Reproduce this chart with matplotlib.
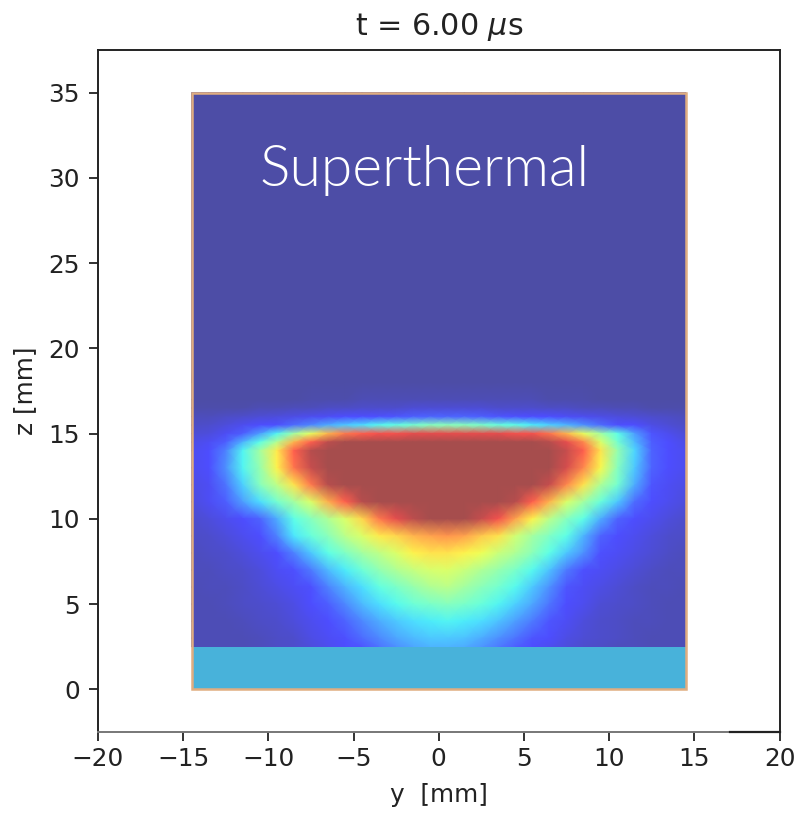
import numpy as np
import matplotlib
matplotlib.use('Agg')
import matplotlib.pyplot as plt
from matplotlib.colors import ListedColormap
from matplotlib.patches import Rectangle

# bin edges (mm), values on a 0-10 scale
y_pos = np.arange(-14.5, 15.5, 1.0)
z_pos = [35, 18, 17, 16.5, 16, 15.5, 15, 14.5, 14, 13, 12, 11, 10, 9, 8, 7, 6, 5, 4, 3, 2.5]

row_35 = [0] * 30
row_18 = [0] * 30
row_17 = [0, 0, 0, 0, 0, 0, 0, .1, .1, .1, .2, .2, .2, .2, .2, .2, .2, .2, .2, .2, .2, .1, .1, .1, 0, 0, 0, 0, 0, 0]
row_165 = [.1, .1, .1, .1, .2, .2, .3, .3, .4, .4, .5, .5, .5, .6, .6, .6, .6, .6, .5, .5, .5, .4, .4, .3, .3, .2, .2, .1, .1, .1]
row_16 = [.3, .3, .4, .5, .6, .7, .8, .9, 1, 1.1, 1.2, 1.3, 1.4, 1.5, 1.6, 1.6, 1.6, 1.5, 1.4, 1.3, 1.2, 1.1, 1, .9, .8, .7, .6, .5, .4, .3]
row_155 = [.4, .5, .7, .9, 1.1, 1.3, 1.7, 2.1, 2.6, 3, 3.3, 3.7, 3.9, 4.2, 4.5, 4.6, 4.5, 4.3, 4, 3.8, 3.5, 3.1, 2.7, 2.2, 1.7, 1.3, 1.1, .8, .6, .4]
row_15 = [.6, .7, 1, 1.5, 2.4, 3.6, 5, 6.2, 7.5, 8.4, 8.8, 9, 9, 9.2, 9.2, 9.2, 9.2, 9.2, 9.2, 9, 9, 8.5, 7.5, 6.2, 5, 3.8, 2.4, 1.4, .9, .6]
row_145 = [.8, 1, 1.5, 2.7, 3.8, 5.3, 7.5, 8.8, 9.7, 10, 10, 10, 10, 10, 10, 10, 10, 10, 10, 10, 10, 9.8, 9.2, 8.2, 6, 4.2, 2.8, 1.5, 1.1, .8]
row_14 = [.9, 1.1, 2, 3.6, 5, 6.7, 8.8, 9.8, 10, 10, 10, 10, 10, 10, 10, 10, 10, 10, 10, 10, 10, 10, 9.6, 8.8, 6.8, 4.8, 3.2, 1.6, 1.1, .9]
row_13 = [.9, 1.1, 2.2, 3.6, 4.8, 6.6, 8.5, 9.6, 10, 10, 10, 10, 10, 10, 10, 10, 10, 10, 10, 10, 10, 10, 9.4, 8.2, 6.5, 4.5, 3, 1.6, 1.1, .9]
row_12 = [.8, 1, 1.8, 3.1, 4.5, 5.5, 6.8, 8.4, 9.8, 10, 10, 10, 10, 10, 10, 10, 10, 10, 10, 10, 10, 9.6, 8.2, 6.8, 5.2, 4.2, 2.6, 1.4, 1, .8]
row_11 = [.7, 1, 1.5, 2.4, 3.3, 4.2, 5, 6, 7.6, 8.8, 9.8, 10, 10, 10, 10, 10, 10, 10, 10, 9.8, 8.8, 7.5, 6, 5, 4, 3, 1.7, 1.1, .9, .7]
row_10 = [.5, .7, .9, 1.1, 1.6, 2.6, 3.8, 4.5, 5.2, 6, 7, 8.4, 9.2, 9.7, 10, 10, 10, 9.6, 9, 7.8, 6.6, 5.4, 4.5, 3.8, 2.6, 1.6, 1.1, .9, .7, .5]
row_9 = [.4, .5, .7, .9, 1.2, 2, 3.4, 4, 4.6, 5.4, 6, 6.7, 7, 7.5, 7.8, 8, 7.8, 7.2, 6.8, 5.8, 5, 4.4, 3.8, 2.7, 1.6, 1.1, .9, .7, .5, .4]
row_8 = [.3, .4, .5, .7, .9, 1.2, 2, 3, 3.8, 4.4, 5, 5.5, 6, 6.6, 6.8, 6.8, 6.6, 6.3, 5.7, 5.2, 4.6, 3.8, 3, 2.2, 1.3, 1, .8, .6, .4, .3]
row_7 = [.3, .3, .4, .5, .7, 1, 1.3, 1.9, 2.8, 3.5, 4.1, 4.7, 5.2, 5.6, 5.9, 6, 5.7, 5.2, 4.8, 4.3, 3.7, 2.9, 1.9, 1.3, 1, .8, .6, .4, .3, .3]
row_6 = [.2, .3, .3, .4, .6, .8, 1, 1.3, 2, 2.7, 3.3, 3.9, 4.3, 4.8, 5.2, 5.4, 5, 4.6, 4.2, 3.7, 3, 2.2, 1.4, 1, .8, .6, .4, .3, .3, .2]
row_5 = [.2, .2, .3, .4, .5, .6, .8, 1.1, 1.5, 2.1, 2.8, 3.3, 3.7, 4.1, 4.3, 4.5, 4.3, 4, 3.6, 3.1, 2.5, 1.8, 1.2, .9, .6, .5, .4, .3, .2, .2]
row_4 = [.2, .2, .2, .3, .4, .5, .7, .9, 1.2, 1.6, 2.1, 2.6, 3, 3.3, 3.5, 3.6, 3.5, 3.3, 2.9, 2.4, 1.9, 1.4, 1, .7, .5, .4, .3, .3, .2, .2]
row_3 = [.2, .2, .2, .2, .3, .4, .5, .8, 1, 1.3, 1.7, 2.1, 2.5, 2.8, 3, 3, 2.9, 2.6, 2.2, 1.8, 1.4, 1.1, .8, .6, .5, .4, .3, .2, .2, .2]
row_25 = [.2, .2, .2, .2, .3, .4, .5, .7, .9, 1.1, 1.4, 1.8, 2.2, 2.5, 2.7, 2.7, 2.6, 2.3, 1.9, 1.5, 1.2, .9, .7, .5, .4, .3, .3, .2, .2, .2]

rows = [row_35, row_18, row_17, row_165, row_16, row_155, row_15, row_145, row_14, row_13, row_12,
        row_11, row_10, row_9, row_8, row_7, row_6, row_5, row_4, row_3, row_25]

x_ticks = [-20, -15, -10, -5, 0, 5, 10, 15, 20]
z_ticks = [0, 5, 10, 15, 20, 25, 30, 35]

W, H = 798, 813
fig = plt.figure(figsize=(W / 100, H / 100), dpi=100)
ax = fig.add_axes([98 / W, 1 - 732 / H, (779.5 - 98) / W, (732 - 50) / H])

# jet at 70% over white, baked in so gouraud triangles don't show seams
jet = plt.get_cmap('jet')(np.linspace(0, 1, 256))[:, :3]
faded_jet = ListedColormap(jet * 0.7 + 0.3)

ax.pcolormesh(y_pos, z_pos, np.array(rows), cmap=faded_jet, vmin=0, vmax=10,
              shading='gouraud', antialiased=False)

# floor band and the tan outline
ax.add_patch(Rectangle((-14.5, 0), 29, 2.5, facecolor='#48B2DA', edgecolor='none', zorder=3))
ax.add_patch(Rectangle((-14.5, 0), 29, 35, facecolor='none', edgecolor='#E0AD80', linewidth=1.8, zorder=4))

ax.set_xlim(-20, 20)
ax.set_ylim(-2.5, 37.5)
ax.set_xticks(x_ticks)
ax.set_yticks(z_ticks)
ax.tick_params(labelsize=17.8, length=6.5, width=1.3, color='#222222', labelcolor='#222222')
ax.tick_params(axis='x', pad=4.5)
ax.tick_params(axis='y', pad=6.5)
for s in ax.spines.values():
    s.set_linewidth(1.4)
    s.set_color('#222222')
ax.spines['bottom'].set_color('#777777')
ax.axhline(-2.5, xmin=0.928, color='#222222', linewidth=1.6, clip_on=False, zorder=5)

ax.set_xlabel('y  [mm]', fontsize=17.8, color='#222222', labelpad=8.5)
ax.set_ylabel('z [mm]', fontsize=17.8, color='#222222', labelpad=8)
ax.set_title(r't = 6.00 $\mu$s', fontsize=21.7, color='#222222', pad=10.5)

ax.text(-10.55, 30.45, 'Superthermal', color='white', fontsize=41, family='Lato',
        weight=300, ha='left', va='center', zorder=6)

fig.savefig('out.png', dpi=100)
